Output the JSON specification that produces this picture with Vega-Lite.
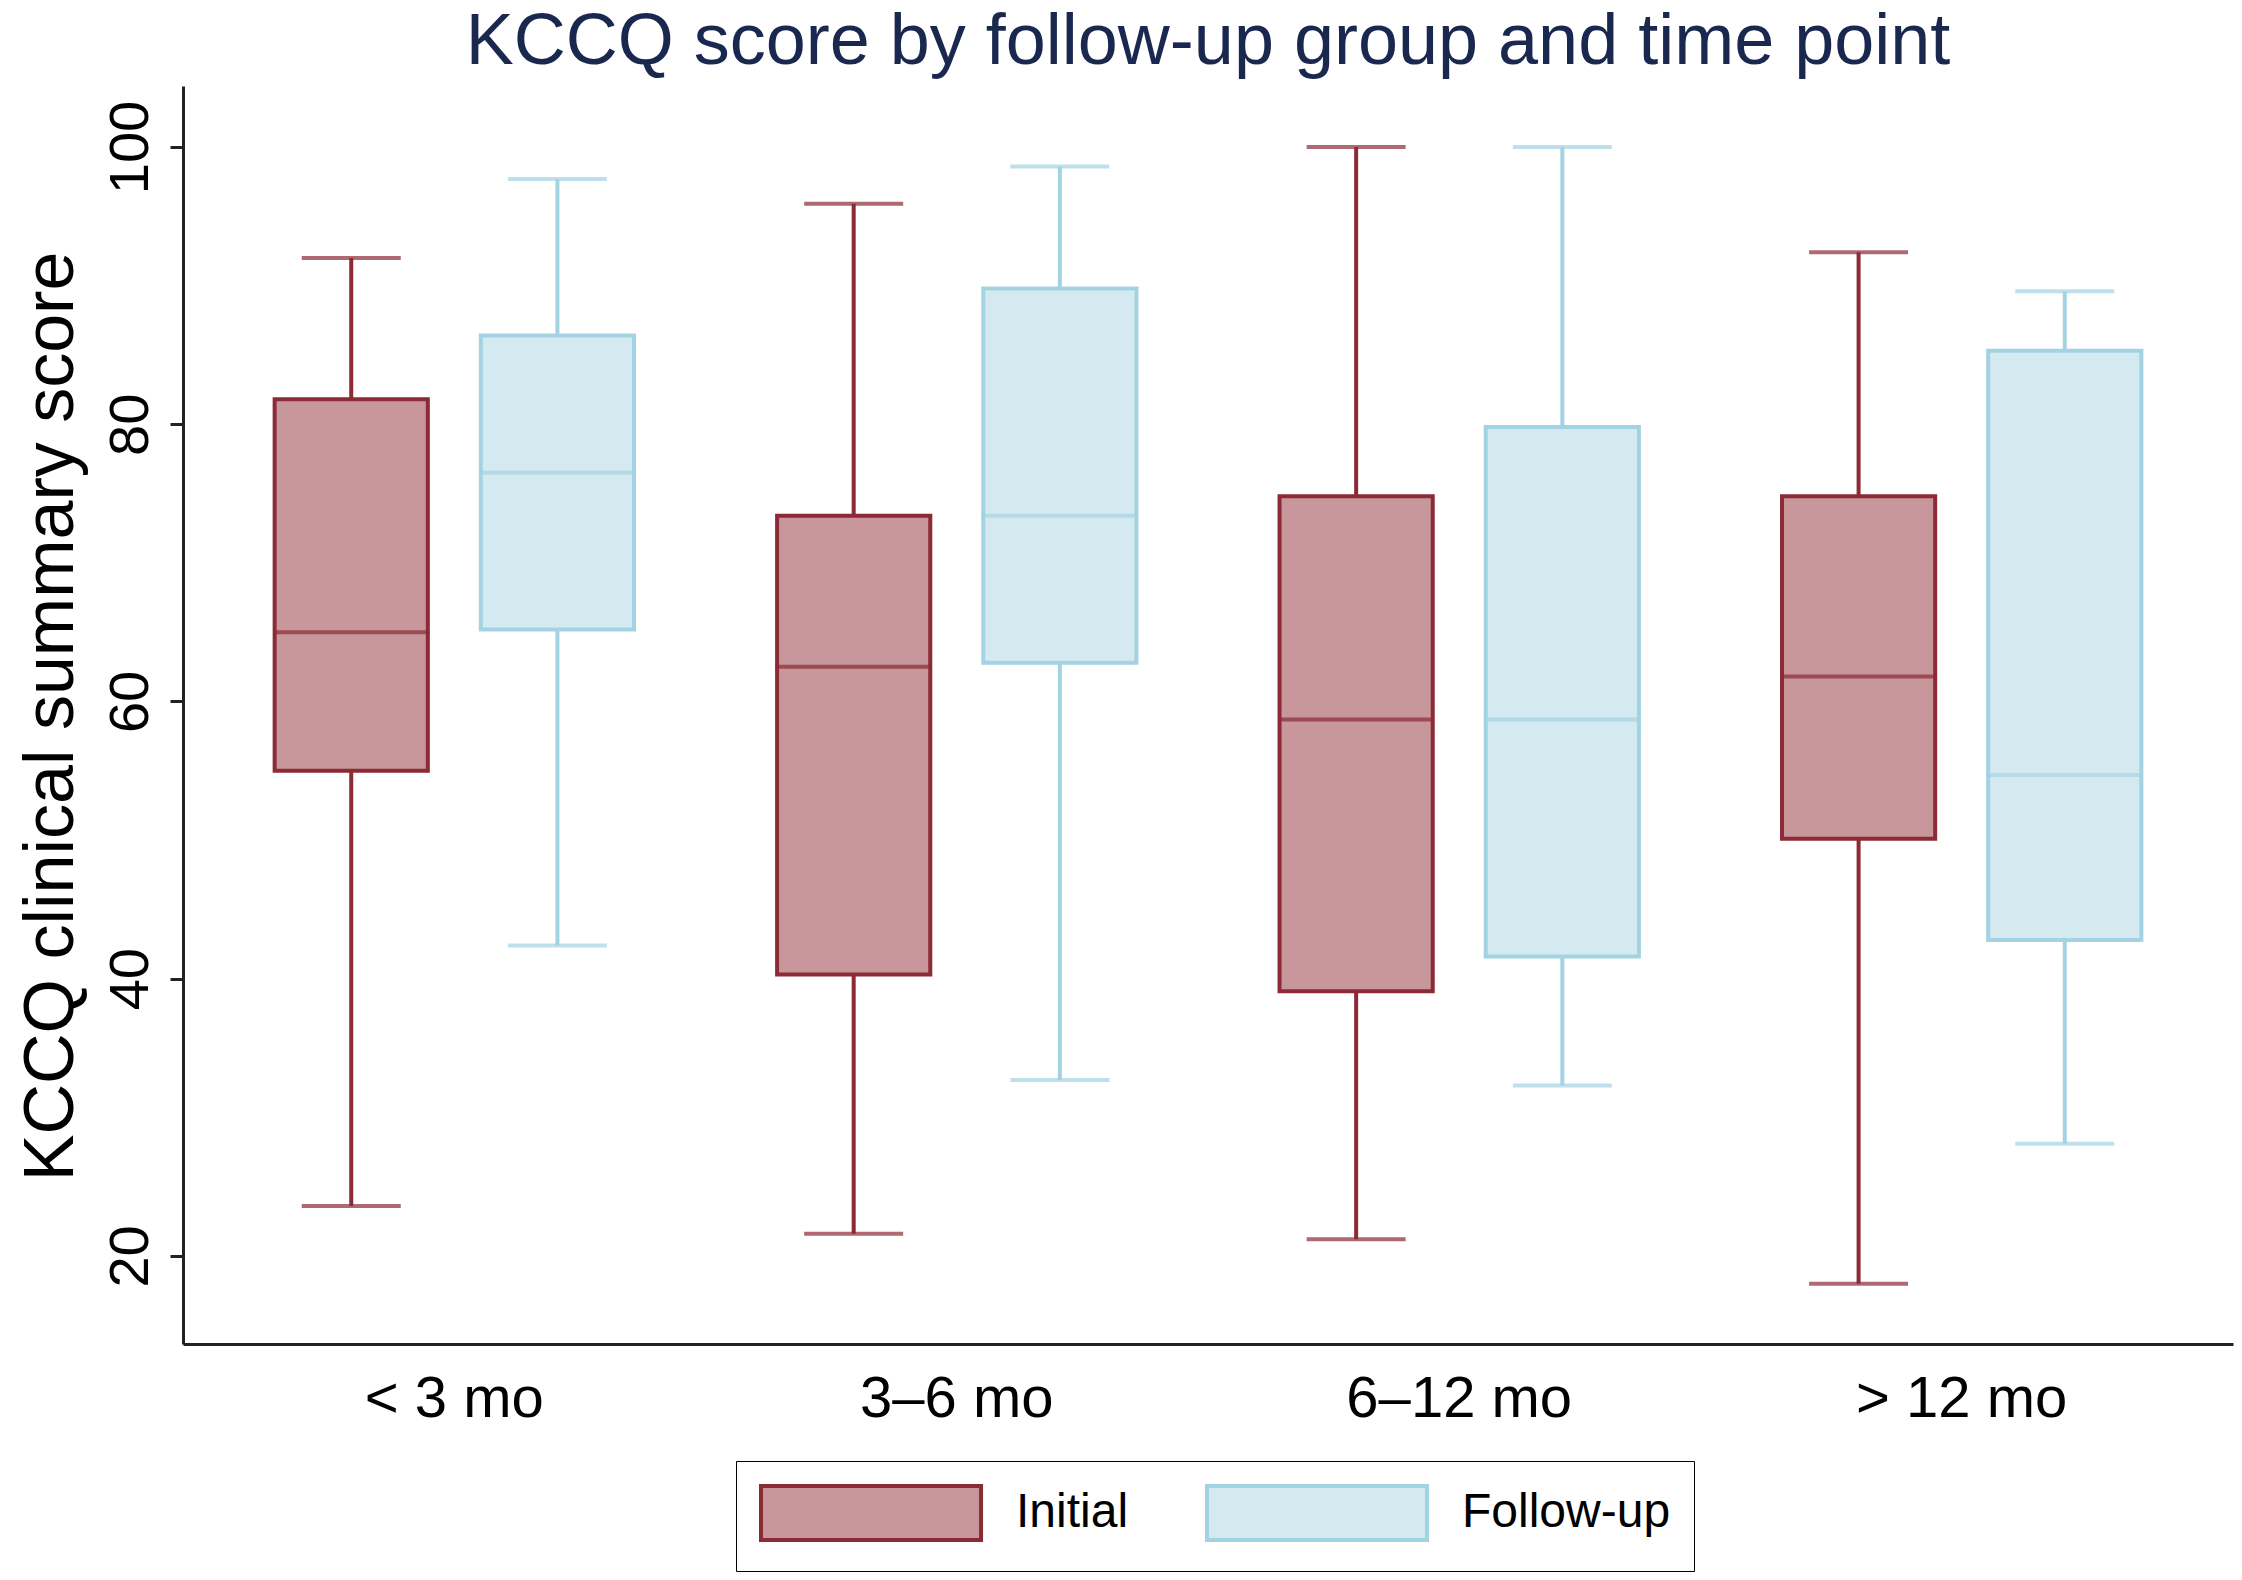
{
  "$schema": "https://vega.github.io/schema/vega-lite/v6.json",
  "width": 2050,
  "height": 1258,
  "autosize": {"type": "none"},
  "padding": {"left": 183, "top": 86, "right": 9, "bottom": 236},
  "background": "white",
  "title": {
    "text": "KCCQ score by follow-up group and time point",
    "fontSize": 72,
    "font": "Liberation Sans",
    "fontWeight": "normal",
    "color": "#1a2850",
    "anchor": "middle",
    "frame": "group",
    "baseline": "alphabetic",
    "offset": 22,
    "dy": 72
  },
  "data": {
    "values": [
      {"group": "< 3 mo", "series": "Initial", "low": 23.6, "q1": 55.0, "median": 65.0, "q3": 81.8, "high": 92.0},
      {"group": "< 3 mo", "series": "Follow-up", "low": 42.4, "q1": 65.2, "median": 76.5, "q3": 86.4, "high": 97.7},
      {"group": "3–6 mo", "series": "Initial", "low": 21.6, "q1": 40.3, "median": 62.5, "q3": 73.4, "high": 95.9},
      {"group": "3–6 mo", "series": "Follow-up", "low": 32.7, "q1": 62.8, "median": 73.4, "q3": 89.8, "high": 98.6},
      {"group": "6–12 mo", "series": "Initial", "low": 21.2, "q1": 39.1, "median": 58.7, "q3": 74.8, "high": 100.0},
      {"group": "6–12 mo", "series": "Follow-up", "low": 32.3, "q1": 41.6, "median": 58.7, "q3": 79.8, "high": 100.0},
      {"group": "> 12 mo", "series": "Initial", "low": 18.0, "q1": 50.1, "median": 61.8, "q3": 74.8, "high": 92.4},
      {"group": "> 12 mo", "series": "Follow-up", "low": 28.1, "q1": 42.8, "median": 54.7, "q3": 85.3, "high": 89.6}
    ]
  },
  "encoding": {
    "x": {
      "field": "group",
      "type": "nominal",
      "sort": ["< 3 mo", "3–6 mo", "6–12 mo", "> 12 mo"],
      "scale": {"paddingInner": 0, "paddingOuter": 0.04},
      "axis": {
        "title": null,
        "labelAngle": 0,
        "ticks": false,
        "domain": true,
        "domainColor": "#222222",
        "domainWidth": 3,
        "labelFont": "Liberation Sans",
        "labelFontSize": 58,
        "labelColor": "#000000",
        "labelPadding": 26,
        "labelLimit": 0
      }
    },
    "xOffset": {
      "field": "series",
      "type": "nominal",
      "sort": ["Initial", "Follow-up"],
      "scale": {"paddingInner": 0.257, "paddingOuter": 0.347}
    }
  },
  "layer": [
    {
      "mark": {"type": "rule", "strokeWidth": 4},
      "encoding": {
        "y": {
          "field": "low", "type": "quantitative",
          "title": "KCCQ clinical summary score",
          "scale": {"domain": [13.65, 104.4], "nice": false, "zero": false},
          "axis": {"values": [20, 40, 60, 80, 100]}
        },
        "y2": {"field": "high"},
        "stroke": {
          "field": "series", "type": "nominal",
          "sort": ["Initial", "Follow-up"],
          "scale": {"domain": ["Initial", "Follow-up"], "range": ["#8c2a35", "#a3d3e2"]},
          "title": null
        }
      }
    },
    {
      "mark": {"type": "bar", "strokeWidth": 4},
      "encoding": {
        "y": {
          "field": "q1", "type": "quantitative",
          "title": "KCCQ clinical summary score",
          "scale": {"domain": [13.65, 104.4], "nice": false, "zero": false},
          "axis": {"values": [20, 40, 60, 80, 100]}
        },
        "y2": {"field": "q3"},
        "fill": {
          "field": "series", "type": "nominal",
          "sort": ["Initial", "Follow-up"],
          "scale": {"domain": ["Initial", "Follow-up"], "range": ["#c8979b", "#d5eaf0"]},
          "title": null
        },
        "stroke": {
          "field": "series", "type": "nominal",
          "sort": ["Initial", "Follow-up"],
          "scale": {"domain": ["Initial", "Follow-up"], "range": ["#8c2a35", "#a3d3e2"]},
          "title": null
        }
      }
    },
    {
      "mark": {"type": "tick", "filled": false, "thickness": 1, "size": 153, "strokeWidth": 3},
      "encoding": {
        "y": {
          "field": "median", "type": "quantitative",
          "title": "KCCQ clinical summary score",
          "scale": {"domain": [13.65, 104.4], "nice": false, "zero": false},
          "axis": {"values": [20, 40, 60, 80, 100]}
        },
        "stroke": {
          "field": "series", "type": "nominal",
          "sort": ["Initial", "Follow-up"],
          "scale": {"domain": ["Initial", "Follow-up"], "range": ["#8c2a35", "#a3d3e2"]},
          "title": null
        }
      }
    },
    {
      "mark": {"type": "tick", "filled": false, "thickness": 1, "size": 96, "strokeWidth": 3},
      "encoding": {
        "y": {
          "field": "low", "type": "quantitative",
          "title": "KCCQ clinical summary score",
          "scale": {"domain": [13.65, 104.4], "nice": false, "zero": false},
          "axis": {"values": [20, 40, 60, 80, 100]}
        },
        "stroke": {
          "field": "series", "type": "nominal",
          "sort": ["Initial", "Follow-up"],
          "scale": {"domain": ["Initial", "Follow-up"], "range": ["#8c2a35", "#a3d3e2"]},
          "title": null
        }
      }
    },
    {
      "mark": {"type": "tick", "filled": false, "thickness": 1, "size": 96, "strokeWidth": 3},
      "encoding": {
        "y": {
          "field": "high", "type": "quantitative",
          "title": "KCCQ clinical summary score",
          "scale": {"domain": [13.65, 104.4], "nice": false, "zero": false},
          "axis": {"values": [20, 40, 60, 80, 100]}
        },
        "stroke": {
          "field": "series", "type": "nominal",
          "sort": ["Initial", "Follow-up"],
          "scale": {"domain": ["Initial", "Follow-up"], "range": ["#8c2a35", "#a3d3e2"]},
          "title": null
        }
      }
    }
  ],
  "config": {
    "view": {"stroke": null},
    "axisY": {
      "grid": false,
      "domain": true,
      "domainColor": "#222222",
      "domainWidth": 3,
      "ticks": true,
      "tickSize": 13,
      "tickWidth": 3,
      "tickColor": "#222222",
      "labelAngle": 270,
      "labelAlign": "center",
      "labelBaseline": "bottom",
      "labelFont": "Liberation Sans",
      "labelFontSize": 56,
      "labelColor": "#000000",
      "labelPadding": 11,
      "titleFont": "Liberation Sans",
      "titleFontSize": 70,
      "titleFontWeight": "normal",
      "titleColor": "#000000",
      "titleAngle": 270,
      "titleAlign": "center",
      "titleBaseline": "alphabetic",
      "titleX": -111,
      "titleY": 630
    },
    "legend": {
      "orient": "none",
      "legendX": 553,
      "legendY": 1375,
      "direction": "horizontal",
      "symbolType": "M-1,-1L7.15,-1L7.15,1L-1,1Z",
      "symbolSize": 2916,
      "symbolStrokeWidth": 4,
      "labelFont": "Liberation Sans",
      "labelFontSize": 48,
      "labelColor": "#000000",
      "labelOffset": 199,
      "labelLimit": 0,
      "columnPadding": 70,
      "padding": 23,
      "strokeColor": "#000000",
      "cornerRadius": 0
    }
  }
}
